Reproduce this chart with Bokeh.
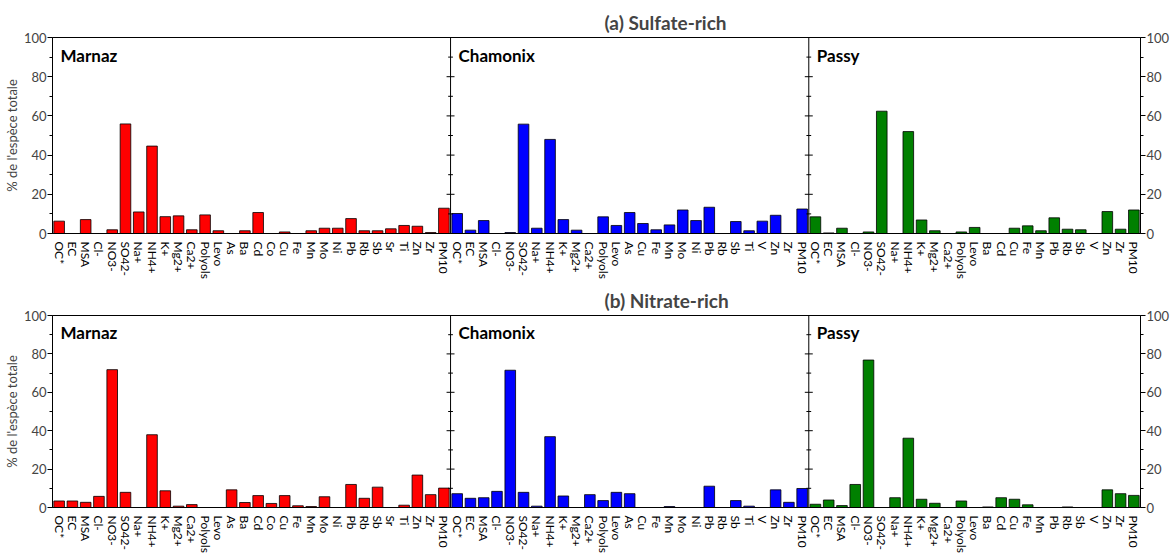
import math
from bokeh.plotting import figure
from bokeh.models import Range1d, LinearAxis, FixedTicker, Span, Label, ColumnDataSource
from bokeh.layouts import column
from bokeh.embed import file_html
from bokeh.resources import INLINE

FONT = "Lato"

sites = ["Marnaz", "Chamonix", "Passy"]
site_colors = ["#FF0000", "#0000FF", "#008000"]

marnaz_species = ["OC*", "EC", "MSA", "Cl-", "NO3-", "SO42-", "Na+", "NH4+", "K+", "Mg2+",
                  "Ca2+", "Polyols", "Levo", "As", "Ba", "Cd", "Co", "Cu", "Fe", "Mn",
                  "Mo", "Ni", "Pb", "Rb", "Sb", "Sr", "Ti", "Zn", "Zr", "PM10"]
chamonix_species = ["OC*", "EC", "MSA", "Cl-", "NO3-", "SO42-", "Na+", "NH4+", "K+", "Mg2+",
                    "Ca2+", "Polyols", "Levo", "As", "Cu", "Fe", "Mn", "Mo", "Ni", "Pb",
                    "Rb", "Sb", "Ti", "V", "Zn", "Zr", "PM10"]
passy_species = ["OC*", "EC", "MSA", "Cl-", "NO3-", "SO42-", "Na+", "NH4+", "K+", "Mg2+",
                 "Ca2+", "Polyols", "Levo", "Ba", "Cd", "Cu", "Fe", "Mn", "Pb", "Rb",
                 "Sb", "V", "Zn", "Zr", "PM10"]

# (a) Sulfate-rich factor, % of total species
sulf_marnaz = [6.3, 0, 7.1, 0, 1.9, 55.9, 11.0, 44.6, 8.6, 9.0,
               1.9, 9.5, 1.4, 0, 1.4, 10.7, 0, 0.8, 0, 1.4,
               2.7, 2.7, 7.6, 1.4, 1.4, 2.4, 4.1, 3.7, 0.5, 12.9]
sulf_chamonix = [10.2, 1.7, 6.6, 0, 0.5, 55.8, 2.7, 48.0, 7.1, 1.7,
                 0, 8.5, 4.1, 10.7, 5.1, 1.9, 4.4, 12.0, 6.6, 13.4,
                 0, 6.1, 1.4, 6.3, 9.3, 0, 12.5]
sulf_passy = [8.5, 0.3, 2.7, 0, 0.8, 62.4, 0, 52.0, 6.9, 1.4,
              0, 0.8, 3.1, 0, 0, 2.7, 3.9, 1.4, 8.0, 2.2,
              1.9, 0, 11.2, 2.2, 12.0]

# (b) Nitrate-rich factor
nit_marnaz = [3.4, 3.4, 2.7, 5.8, 71.8, 7.9, 0, 37.9, 8.7, 0.7,
              1.5, 0, 0, 9.2, 2.6, 6.2, 2.1, 6.2, 0.9, 0.5,
              5.6, 0, 12.0, 4.8, 10.6, 0, 1.2, 16.9, 6.7, 10.1]
nit_chamonix = [7.2, 4.8, 5.1, 8.4, 71.5, 7.9, 0.7, 36.9, 6.0, 0,
                6.7, 3.6, 7.9, 7.2, 0, 0, 0.5, 0, 0, 11.1,
                0, 3.6, 0.7, 0, 9.2, 2.7, 9.9]
nit_passy = [1.7, 3.9, 1.0, 12.0, 76.8, 0, 5.1, 36.1, 4.3, 2.2,
             0, 3.4, 0, 0.3, 5.1, 4.3, 1.4, 0, 0, 0.3,
             0, 0, 9.2, 7.2, 6.3]

y_major = [0, 20, 40, 60, 80, 100]
y_minor = [10, 30, 50, 70, 90]

all_species = [marnaz_species, chamonix_species, passy_species]


def build_row(title_text, values_by_site, fig_height, top_border, title_offset):
    xs, tops, cols, labels = [], [], [], []
    starts = []
    off = 0
    for species, vals, color in zip(all_species, values_by_site, site_colors):
        starts.append(off)
        for j, (s, v) in enumerate(zip(species, vals)):
            xs.append(off + j + 0.5)
            tops.append(v)
            cols.append(color)
            labels.append(s)
        off += len(species)
    n = off

    p = figure(width=1172, height=fig_height, x_range=Range1d(0, n), y_range=Range1d(0, 100),
               output_backend="svg", toolbar_location=None,
               min_border_top=top_border, min_border_left=0, min_border_right=0,
               min_border_bottom=0)
    p.grid.visible = False
    p.outline_line_color = "black"
    p.outline_line_width = 1
    p.outline_line_alpha = 1

    src = ColumnDataSource(dict(x=xs, top=tops, color=cols))
    p.vbar(x="x", top="top", bottom=0, width=0.8, fill_color="color",
           line_color="black", line_width=0.8, source=src)

    # x axis
    xa = p.xaxis[0]
    xa.ticker = FixedTicker(ticks=xs)
    xa.major_label_overrides = {x: lab for x, lab in zip(xs, labels)}
    xa.major_label_orientation = "vertical"
    xa.major_tick_line_color = None
    xa.minor_tick_line_color = None
    xa.axis_line_color = "black"
    xa.major_label_text_font = FONT
    xa.major_label_text_font_size = "12px"
    xa.major_label_text_color = "black"
    xa.major_label_standoff = 2

    # left axis
    ya = p.yaxis[0]
    ya.ticker = FixedTicker(ticks=y_major, minor_ticks=y_minor)
    ya.axis_label = "% de l'espèce totale"
    ya.axis_label_text_font = FONT
    ya.axis_label_text_font_style = "normal"
    ya.axis_label_text_font_size = "13px"
    ya.axis_label_standoff = 1
    ya.major_label_text_font = FONT
    ya.major_label_text_font_size = "13px"
    ya.major_label_standoff = 1
    ya.major_tick_out = 5
    ya.major_tick_in = 0
    ya.minor_tick_out = 3
    ya.minor_tick_in = 0
    ya.axis_line_color = "black"

    ra = LinearAxis(ticker=FixedTicker(ticks=y_major, minor_ticks=y_minor))
    ra.major_label_text_font = FONT
    ra.major_label_text_font_size = "13px"
    ra.major_label_standoff = 1
    ra.major_tick_out = 5
    ra.major_tick_in = 0
    ra.minor_tick_out = 3
    ra.minor_tick_in = 0
    ra.axis_line_color = "black"
    p.add_layout(ra, "right")

    # dividers between sites, with ticks on both sides
    for s in starts[1:]:
        p.add_layout(Span(location=s, dimension="height", line_color="black", line_width=1))
        p.segment(x0=[s - 0.3] * len(y_major), x1=[s + 0.3] * len(y_major),
                  y0=y_major, y1=y_major, line_color="black", line_width=1)
        p.segment(x0=[s - 0.18] * len(y_minor), x1=[s + 0.18] * len(y_minor),
                  y0=y_minor, y1=y_minor, line_color="black", line_width=1)

    for s, name in zip(starts, sites):
        p.add_layout(Label(x=s, y=91, x_offset=8, text=name, text_font=FONT,
                           text_font_style="bold", text_font_size="17px",
                           text_baseline="middle", text_color="black"))

    p.title.text = title_text
    p.title.align = "left"
    p.title.offset = title_offset
    p.title.text_font = FONT
    p.title.text_font_style = "bold"
    p.title.text_font_size = "19px"
    p.title.standoff = 8
    return p


p1 = build_row("(a) Sulfate-rich", [sulf_marnaz, sulf_chamonix, sulf_passy], 281, 37, 552)
p2 = build_row("(b) Nitrate-rich", [nit_marnaz, nit_chamonix, nit_passy], 274, 34, 552)

layout = column(p1, p2, spacing=0)
open("out.html", "w").write(file_html(layout, INLINE))
